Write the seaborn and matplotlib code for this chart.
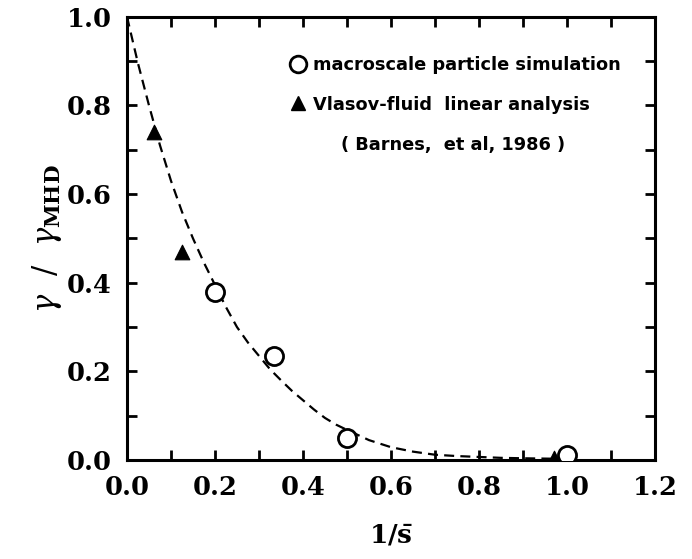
import matplotlib.pyplot as plt
import seaborn as sns
from matplotlib.lines import Line2D
from matplotlib.ticker import MultipleLocator

# dashed fit curve
curve_x = [0.0, 0.025, 0.05, 0.075, 0.1, 0.125, 0.15, 0.175, 0.2, 0.225, 0.25, 0.275,
           0.3, 0.325, 0.35, 0.375, 0.4, 0.425, 0.45, 0.475, 0.5, 0.55, 0.6, 0.65,
           0.7, 0.75, 0.8, 0.85, 0.9, 0.97]
curve_y = [1.0, 0.895, 0.80, 0.71, 0.63, 0.56, 0.50, 0.445, 0.395, 0.345, 0.30, 0.265,
           0.235, 0.205, 0.18, 0.156, 0.135, 0.114, 0.095, 0.08, 0.068, 0.045, 0.029, 0.019,
           0.012, 0.009, 0.007, 0.005, 0.004, 0.003]

# macroscale particle simulation
sim_x = [0.2, 0.333, 0.5, 1.0]
sim_y = [0.378, 0.235, 0.05, 0.012]

# Vlasov-fluid linear analysis
vlasov_x = [0.0625, 0.125, 0.97]
vlasov_y = [0.74, 0.47, 0.004]

sns.set_style("ticks", {'axes.edgecolor': 'black', 'xtick.color': 'black',
                        'ytick.color': 'black', 'text.color': 'black',
                        'axes.labelcolor': 'black'})
plt.rcParams['font.family'] = ['DejaVu Serif']
plt.rcParams['mathtext.fontset'] = 'dejavuserif'

fig = plt.figure(figsize=(6.92, 5.59), dpi=100)
ax = fig.add_axes([0.1835, 0.177, 0.763, 0.793])

sns.lineplot(x=curve_x, y=curve_y, ax=ax, color='black', linestyle=(0, (4.5, 2.8)), linewidth=1.6)
sns.scatterplot(x=sim_x, y=sim_y, ax=ax, marker='o', s=170, facecolor='white',
                edgecolor='black', linewidth=2, zorder=3)
sns.scatterplot(x=vlasov_x, y=vlasov_y, ax=ax, marker='^', s=110, color='black',
                edgecolor='black', zorder=3)

ax.set_xlim(0, 1.2)
ax.set_ylim(0, 1.0)
ax.xaxis.set_major_locator(MultipleLocator(0.2))
ax.xaxis.set_minor_locator(MultipleLocator(0.1))
ax.yaxis.set_major_locator(MultipleLocator(0.2))
ax.yaxis.set_minor_locator(MultipleLocator(0.1))
ax.tick_params(which='both', direction='in', top=True, right=True, width=2, colors='black')
ax.tick_params(which='major', length=7, labelsize=18.5, pad=11)
ax.tick_params(which='minor', length=7)
ax.set_xticklabels([f'{v:.1f}' for v in ax.get_xticks()], fontweight='bold')
ax.set_yticklabels([f'{v:.1f}' for v in ax.get_yticks()], fontweight='bold')
for s in ax.spines.values():
    s.set_linewidth(2.2)
    s.set_color('black')

ax.set_xlabel(r'$\mathbf{1/\bar{s}}$', fontsize=19, labelpad=16, color='black')
ax.set_ylabel(r'$\gamma\ \ /\ \ \gamma_{\mathbf{MHD}}$', fontsize=22, labelpad=2, color='black')

handles = [
    Line2D([], [], marker='o', color='black', markerfacecolor='white', markersize=12,
           markeredgewidth=2, linestyle='none'),
    Line2D([], [], marker='^', color='black', markersize=10, linestyle='none'),
]
leg = ax.legend(handles, ['macroscale particle simulation', 'Vlasov-fluid  linear analysis'],
                loc='upper left', bbox_to_anchor=(0.29, 0.927), frameon=False,
                prop={'family': 'DejaVu Sans', 'weight': 'bold', 'size': 12.8},
                handletextpad=0.25, labelspacing=1.2, alignment='left',
                borderaxespad=0, handlelength=1.2, labelcolor='black')
ax.text(0.405, 0.711, '( Barnes,  et al, 1986 )', transform=ax.transAxes,
        family='DejaVu Sans', fontweight='bold', fontsize=12.8, va='center', color='black')

fig.savefig('out.png', dpi=100)
